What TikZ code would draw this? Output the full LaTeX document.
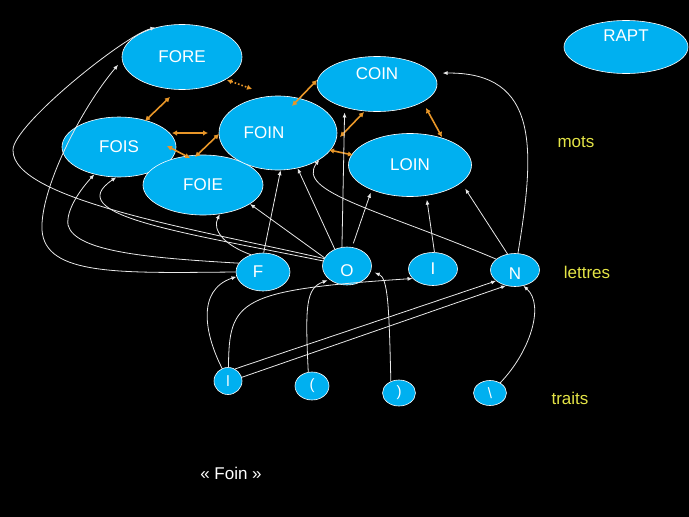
\documentclass[tikz,border=0pt]{standalone}
\usepackage{fontspec}
\setmainfont{Liberation Sans}
\usetikzlibrary{shapes.geometric,arrows.meta}
\definecolor{bubble}{RGB}{0,176,240}
\definecolor{linkc}{RGB}{232,150,40}
\definecolor{tagc}{RGB}{228,228,70}
\definecolor{wirec}{RGB}{232,232,232}
\begin{document}
\begin{tikzpicture}[x=1pt,y=-1pt,
  bub/.style={ellipse,fill=bubble,draw=white,line width=0.6pt,inner sep=0pt,text=white,font=\fontsize{17}{20}\selectfont},
  lab/.style={text=white,font=\fontsize{17}{20}\selectfont,inner sep=0pt},
  trt/.style={font=\fontsize{15}{18}\selectfont},
  tagtxt/.style={text=tagc,font=\fontsize{17}{20}\selectfont,inner sep=0pt},
  wire/.style={draw=wirec,line width=0.8pt,-{Latex[length=5pt,width=4pt]}},
  lnk/.style={draw=linkc,line width=1.6pt,{Latex[length=5pt,width=5.5pt]}-{Latex[length=5pt,width=5.5pt]}}]
\useasboundingbox (0,0) rectangle (689,517);
\fill[black] (0,0) rectangle (689,517);

% words
\node[bub,minimum width=120,minimum height=65] (FORE) at (182,57) {FORE};
\node[bub,minimum width=114,minimum height=60] (FOIS) at (119,147) {FOIS};
\node[bub,minimum width=120,minimum height=60] (FOIE) at (203,185) {FOIE};
\node[bub,minimum width=118,minimum height=74,label={[lab,xshift=-14pt]center:FOIN}] (FOIN) at (278,133) {};
\node[bub,minimum width=120,minimum height=55,label={[lab,yshift=10pt]center:COIN}] (COIN) at (377,84) {};
\node[bub,minimum width=123,minimum height=63] (LOIN) at (410,165) {LOIN};
\node[bub,minimum width=124,minimum height=53,label={[lab,yshift=11pt]center:RAPT}] (RAPT) at (626,47) {};

% letters
\node[bub,minimum width=54,minimum height=38,label={[lab,xshift=-5pt]center:F}] (F) at (263,272) {};
\node[bub,minimum width=49,minimum height=38,label={[lab,yshift=-5pt]center:O}] (O) at (347,266) {};
\node[bub,minimum width=49,minimum height=33] (I) at (433,269) {I};
\node[bub,minimum width=49,minimum height=33,label={[lab,yshift=-4pt]center:N}] (N) at (515,270) {};

% traits
\node[bub,trt,minimum width=28,minimum height=27] (t1) at (228,381) {l};
\node[bub,trt,minimum width=34,minimum height=28] (t2) at (312,386) {(};
\node[bub,trt,minimum width=33,minimum height=26] (t3) at (399,393) {)};
\node[bub,trt,minimum width=33,minimum height=25] (t4) at (490,393) {\textbackslash};

% level labels
\node[tagtxt] (mots) at (576,142) {mots};
\node[tagtxt] (lettres) at (587,272) {lettres};
\node[tagtxt] (traits) at (570,398) {traits};
\node[lab] (caption) at (231,473) {« Foin »};

% lateral links between words
\draw[lnk] ([shift={(26,-26)}]FOIS.center) -- ([shift={(-12,40)}]FORE.center);
\draw[lnk] ([shift={(53,-14)}]FOIS.center) -- ([shift={(-70,0)}]FOIN.center);
\draw[lnk] ([shift={(48,-1)}]FOIS.center) -- ([shift={(-13,-27)}]FOIE.center);
\draw[lnk] ([shift={(-8,-28)}]FOIE.center) -- ([shift={(-59,1)}]FOIN.center);
\draw[lnk,dotted] ([shift={(45,23)}]FORE.center) -- ([shift={(-26,-44)}]FOIN.center);
\draw[lnk] ([shift={(14,-27)}]FOIN.center) -- ([shift={(-60,-4)}]COIN.center);
\draw[lnk] ([shift={(62,4)}]FOIN.center) -- ([shift={(-13,28)}]COIN.center);
\draw[lnk] ([shift={(51,17)}]FOIN.center) -- ([shift={(-57,-10)}]LOIN.center);
\draw[lnk] ([shift={(49,24)}]COIN.center) -- ([shift={(32,-28)}]LOIN.center);

% traits -> letters
\draw[wire] (t1.115) .. controls (205,335) and (196,290) .. (F.190);
\draw[wire] (t1.88) .. controls (229,300) and (238,290) .. (I.205);
\draw[wire] (t1.60) -- (N.210);
\draw[wire] (t1.15) -- (N.240);
\draw[wire,shorten >=2pt] (t2.105) .. controls (305,305) and (306,288) .. (O.218);
\draw[wire,shorten >=4pt] (t3.125) .. controls (389,305) and (388,278) .. (O.-12);
\draw[wire] (t4.45) .. controls (530,352) and (545,305) .. (N.-62);

% letters -> words
\draw[wire] (F.88) -- (FOIN.-86);
\draw[wire] (F.125) .. controls (224,245) and (212,230) .. (FOIE.-60);
\draw[wire,shorten >=6pt] (F.180) .. controls (120,273) and (45,276) .. (42,230) .. controls (40,190) and (80,110) .. (FORE.183);
\draw[wire] (F.160) .. controls (150,258) and (75,252) .. (68,225) .. controls (66,210) and (80,190) .. (FOIS.-132);
\draw[wire] (O.162) .. controls (200,230) and (12,200) .. (13,150) .. controls (13,125) and (125,35) .. (FORE.132);
\draw[wire] (O.168) .. controls (180,232) and (60,215) .. (FOIS.-95);
\draw[wire] (O.160) -- (FOIE.-22);
\draw[wire] (O.126) -- (FOIN.-61);
\draw[wire,shorten >=5pt] (O.105) -- (COIN.-144);
\draw[wire,shorten <=4pt,shorten >=3pt] (O.75) -- (LOIN.-147);
\draw[wire,shorten >=4pt] (I.85) -- (LOIN.-62);
\draw[wire,shorten >=7pt] (N.115) -- (LOIN.-19);
\draw[wire,shorten >=10pt] (N.80) .. controls (535,150) and (540,72) .. (COIN.11);
\draw[wire] (N.150) .. controls (380,210) and (295,192) .. (FOIN.-33);
\end{tikzpicture}
\end{document}
